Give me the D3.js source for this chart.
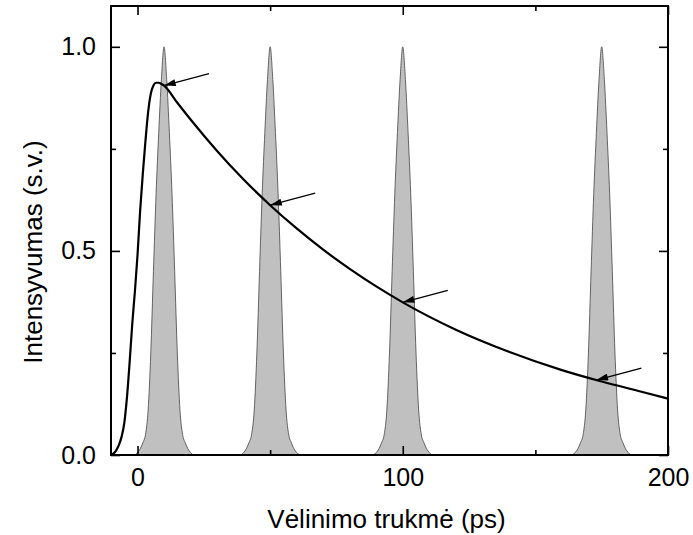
<!DOCTYPE html>
<html>
<head>
<meta charset="utf-8">
<script src="https://cdn.jsdelivr.net/npm/d3@7"></script>
<style>
  body { margin: 0; background: #fff; }
  text { font-family: "Liberation Sans", Arial, sans-serif; }
</style>
</head>
<body>
<div id="chart-area"></div>
<script>
// data
var peakCenters = [10, 50, 100, 175];
// one pulse profile (offset in ps, relative intensity), same for all four pulses
var pulseOffset = [-11, -10, -9, -8, -7, -6, -5, -4, -3, -2, -1, 0, 1, 2, 3, 4, 5, 6, 7, 8, 9, 10, 11];
var pulseLevel  = [0, 0.006, 0.015, 0.03, 0.05, 0.11, 0.25, 0.45, 0.64, 0.79, 0.92, 1.0,
                   0.92, 0.79, 0.64, 0.45, 0.25, 0.11, 0.05, 0.03, 0.015, 0.006, 0];
// kinetic curve
var curveX = [-10, -9, -8, -7, -6, -5, -4, -3, -2, -1, 0, 1, 2, 3, 4, 5, 6, 7, 8, 9, 10,
              15, 20, 30, 40, 50, 60, 70, 80, 90, 100, 120, 140, 160, 175, 190, 200];
var curveY = [0, 0.004, 0.012, 0.025, 0.045, 0.078, 0.14, 0.225, 0.32, 0.40, 0.49, 0.60,
              0.69, 0.77, 0.84, 0.885, 0.905, 0.912, 0.912, 0.909, 0.905,
              0.863, 0.822, 0.745, 0.675, 0.612, 0.555, 0.503, 0.456, 0.413, 0.374,
              0.307, 0.253, 0.208, 0.18, 0.155, 0.138];
// arrows point at the curve here
var arrowAt = [10, 50, 100, 173];
var xTicks = [0, 100, 200], xMinor = [50, 150];
var yTicks = [0, 0.5, 1.0], yMinor = [0.25, 0.75];

// dimensions and margins
var margin = {left: 111, right: 25, top: 6, bottom: 80};
var width = 693 - margin.left - margin.right,
    height = 535 - margin.top - margin.bottom;

var svg = d3.select("#chart-area")
  .append("svg")
    .attr("width", width + margin.left + margin.right)
    .attr("height", height + margin.top + margin.bottom)
  .append("g")
    .attr("transform", "translate(" + margin.left + "," + margin.top + ")");

var x = d3.scaleLinear().domain([-10, 200]).range([0, width]);
var y = d3.scaleLinear().domain([0, 1.1]).range([height, 0]);

svg.append("clipPath").attr("id", "clip")
  .append("rect").attr("width", width).attr("height", height);

var plot = svg.append("g").attr("clip-path", "url(#clip)");

// pulses
var pulseArea = d3.area()
    .x(function(d) { return x(d[0]); })
    .y0(y(0))
    .y1(function(d) { return y(d[1]); })
    .curve(d3.curveMonotoneX);

plot.selectAll(".pulse")
  .data(peakCenters)
  .enter()
  .append("path")
    .attr("class", "pulse")
    .attr("d", function(c) {
      return pulseArea(pulseOffset.map(function(o, i) { return [c + o, pulseLevel[i]]; }));
    })
    .attr("fill", "#c0c0c0")
    .attr("stroke", "#555")
    .attr("stroke-width", 0.9);

// kinetic curve
var line = d3.line()
    .x(function(d) { return x(d[0]); })
    .y(function(d) { return y(d[1]); })
    .curve(d3.curveMonotoneX);

var curveData = curveX.map(function(v, i) { return [v, curveY[i]]; });

plot.append("path")
    .attr("d", line(curveData))
    .attr("fill", "none")
    .attr("stroke", "#000")
    .attr("stroke-width", 2.2);

// arrows
svg.append("defs").append("marker")
    .attr("id", "head")
    .attr("viewBox", "0 0 10 6")
    .attr("refX", 10)
    .attr("refY", 3)
    .attr("markerWidth", 13)
    .attr("markerHeight", 7)
    .attr("markerUnits", "userSpaceOnUse")
    .attr("orient", "auto")
  .append("path")
    .attr("d", "M0,0L10,3L0,6Z")
    .attr("fill", "#000");

var bis = d3.bisector(function(d) { return d[0]; }).left;
function curveAt(v) {
  var i = bis(curveData, v);
  if (curveData[i][0] === v) return curveData[i][1];
  var a = curveData[i - 1], b = curveData[i];
  return a[1] + (b[1] - a[1]) * (v - a[0]) / (b[0] - a[0]);
}

svg.selectAll(".arrow")
  .data(arrowAt)
  .enter()
  .append("line")
    .attr("class", "arrow")
    .attr("x1", function(d) { return x(d) + 45; })
    .attr("y1", function(d) { return y(curveAt(d)) - 12; })
    .attr("x2", function(d) { return x(d); })
    .attr("y2", function(d) { return y(curveAt(d)); })
    .attr("stroke", "#000")
    .attr("stroke-width", 1.3)
    .attr("marker-end", "url(#head)");

// axes, ticks pointing inwards on all four sides
function styleAxis(g) {
  g.select(".domain").remove();
  g.selectAll("line").attr("stroke", "#000").attr("stroke-width", 1.6);
  g.selectAll("text").attr("font-size", "25px").attr("fill", "#000");
}

svg.append("g")
    .attr("transform", "translate(0," + height + ")")
    .call(d3.axisBottom(x).tickValues(xTicks).tickFormat(d3.format("d"))
      .tickSizeInner(-9).tickSizeOuter(0).tickPadding(13))
    .call(styleAxis);
svg.append("g")
    .attr("transform", "translate(0," + height + ")")
    .call(d3.axisBottom(x).tickValues(xMinor).tickFormat("").tickSizeInner(-5).tickSizeOuter(0))
    .call(styleAxis);
svg.append("g")
    .call(d3.axisTop(x).tickValues(xTicks).tickFormat("").tickSizeInner(-9).tickSizeOuter(0))
    .call(styleAxis);
svg.append("g")
    .call(d3.axisTop(x).tickValues(xMinor).tickFormat("").tickSizeInner(-5).tickSizeOuter(0))
    .call(styleAxis);

svg.append("g")
    .call(d3.axisLeft(y).tickValues(yTicks).tickFormat(d3.format(".1f"))
      .tickSizeInner(-9).tickSizeOuter(0).tickPadding(15))
    .call(styleAxis);
svg.append("g")
    .call(d3.axisLeft(y).tickValues(yMinor).tickFormat("").tickSizeInner(-5).tickSizeOuter(0))
    .call(styleAxis);
svg.append("g")
    .attr("transform", "translate(" + width + ",0)")
    .call(d3.axisRight(y).tickValues(yTicks).tickFormat("").tickSizeInner(-9).tickSizeOuter(0))
    .call(styleAxis);
svg.append("g")
    .attr("transform", "translate(" + width + ",0)")
    .call(d3.axisRight(y).tickValues(yMinor).tickFormat("").tickSizeInner(-5).tickSizeOuter(0))
    .call(styleAxis);

// frame
svg.append("rect")
    .attr("width", width)
    .attr("height", height)
    .attr("fill", "none")
    .attr("stroke", "#000")
    .attr("stroke-width", 2);

// labels
svg.append("text")
    .attr("x", width / 2 - 3)
    .attr("y", height + 73)
    .attr("font-size", "26px")
    .attr("text-anchor", "middle")
    .text("Vėlinimo trukmė (ps)");

svg.append("text")
    .attr("transform", "rotate(-90)")
    .attr("x", -246)
    .attr("y", -69)
    .attr("font-size", "26px")
    .attr("text-anchor", "middle")
    .text("Intensyvumas (s.v.)");
</script>
</body>
</html>
